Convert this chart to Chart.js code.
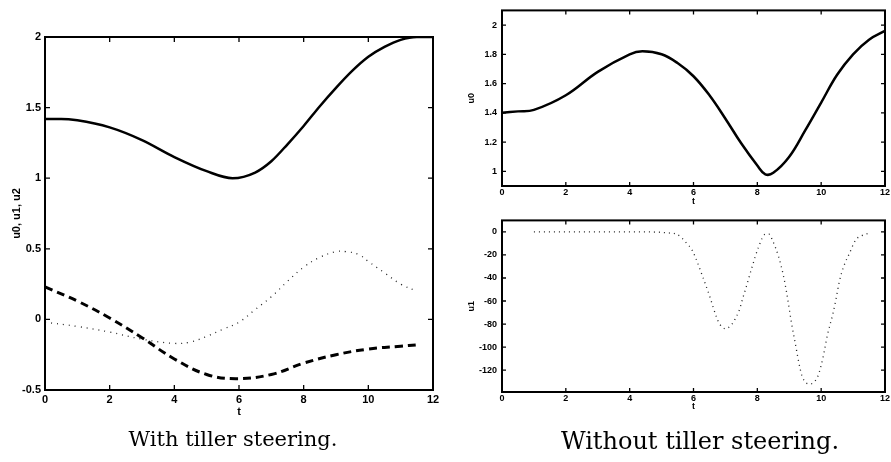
<!DOCTYPE html>
<html>
<head>
<meta charset="utf-8">
<script src="https://cdn.jsdelivr.net/npm/chart.js@4.4.0/dist/chart.umd.min.js"></script>
<style>
  body { margin: 0; background: #fff; width: 891px; height: 462px; position: relative; overflow: hidden; }
  canvas { position: absolute; }
  .cap { position: absolute; font-family: 'DejaVu Serif', serif; color: #000; white-space: nowrap; transform: translateX(-50%); }
</style>
</head>
<body>
<canvas id="left" width="450" height="430" style="left:0;top:0"></canvas>
<canvas id="rtop" width="441" height="210" style="left:450px;top:0"></canvas>
<canvas id="rbot" width="441" height="205" style="left:450px;top:210px"></canvas>
<div class="cap" style="left:233px;top:427px;font-size:21px">With tiller steering.</div>
<div class="cap" style="left:700px;top:427px;font-size:24px">Without tiller steering.</div>
<script>
// left panel: with tiller steering
const tU0 = [0, 0.5, 1, 2, 3, 4, 5, 5.8, 6.5, 7, 7.5, 8, 8.5, 9, 9.5, 10, 10.5, 11, 11.5, 12];
const u0  = [1.42, 1.42, 1.41, 1.36, 1.27, 1.15, 1.05, 1.00, 1.04, 1.12, 1.24, 1.37, 1.51, 1.64, 1.76, 1.86, 1.93, 1.98, 2.0, 2.0];
const tU1 = [0, 1, 2, 3, 4, 5, 5.9, 7, 8, 9, 10, 11, 11.5];
const u1  = [0.23, 0.13, 0.01, -0.13, -0.28, -0.39, -0.42, -0.39, -0.31, -0.25, -0.21, -0.19, -0.18];
const tU2 = [0, 1, 2, 3, 4, 4.5, 5, 5.5, 6, 6.5, 7, 7.5, 8, 8.5, 9, 9.3, 9.7, 10, 10.5, 11, 11.5];
const u2  = [-0.02, -0.05, -0.09, -0.14, -0.17, -0.16, -0.12, -0.07, -0.02, 0.07, 0.16, 0.27, 0.37, 0.44, 0.48, 0.48, 0.46, 0.41, 0.33, 0.25, 0.20];

// right panels: without tiller steering
const tR0 = [0, 0.5, 1, 2, 3, 4, 4.4, 5, 5.5, 6, 6.5, 7, 7.5, 8, 8.25, 8.5, 9, 9.5, 10, 10.5, 11, 11.5, 12];
const r0  = [1.40, 1.41, 1.42, 1.52, 1.68, 1.80, 1.82, 1.80, 1.74, 1.65, 1.52, 1.36, 1.19, 1.04, 0.98, 0.99, 1.10, 1.28, 1.47, 1.66, 1.80, 1.90, 1.96];
const tR1 = [1, 2, 3, 4, 4.6, 5.26, 5.48, 5.79, 5.96, 6.29, 6.52, 6.72, 6.82, 7.0, 7.42, 7.55, 7.65, 7.84, 8.04, 8.25, 8.37, 8.47, 8.66, 8.81, 8.92, 9.07, 9.15, 9.40, 9.65, 9.90, 10.05, 10.2, 10.36, 10.46, 10.57, 10.72, 10.88, 11.08, 11.29, 11.5];
const r1  = [0, 0, 0, 0, 0, -1, -2, -10, -16, -39, -57, -74, -80, -84, -69, -57, -48, -30, -13, -2, -2, -7, -21, -37, -53, -79, -91, -125, -132, -125, -110, -89, -72, -59, -43, -29, -19, -7, -3, -1];

const tTicks = [0, 2, 4, 6, 8, 10, 12];
const leftYTicks = [-0.5, 0, 0.5, 1, 1.5, 2];
const topYTicks = [1, 1.2, 1.4, 1.6, 1.8, 2];
const botYTicks = [-120, -100, -80, -60, -40, -20, 0];

Chart.defaults.font.family = 'Liberation Sans, Arial, sans-serif';
Chart.defaults.font.weight = 'bold';
Chart.defaults.color = '#000';

const pts = (xs, ys) => xs.map((x, i) => ({x: x, y: ys[i]}));

// box around the plot + inward tick marks, matlab style
const frame = {
  id: 'frame',
  afterDatasetsDraw(chart, args, opts) {
    const {ctx, chartArea: a, scales} = chart;
    ctx.save();
    ctx.strokeStyle = '#000';
    ctx.lineWidth = opts.width;
    ctx.strokeRect(a.left, a.top, a.right - a.left, a.bottom - a.top);
    ctx.lineWidth = 1.3;
    ctx.beginPath();
    scales.x.ticks.forEach(t => {
      const p = scales.x.getPixelForValue(t.value);
      ctx.moveTo(p, a.bottom); ctx.lineTo(p, a.bottom - opts.len);
      ctx.moveTo(p, a.top); ctx.lineTo(p, a.top + opts.len);
    });
    scales.y.ticks.forEach(t => {
      const p = scales.y.getPixelForValue(t.value);
      ctx.moveTo(a.left, p); ctx.lineTo(a.left + opts.len, p);
      ctx.moveTo(a.right, p); ctx.lineTo(a.right - opts.len, p);
    });
    ctx.stroke();
    ctx.restore();
  }
};

function makeChart(id, datasets, o) {
  return new Chart(document.getElementById(id), {
    type: 'line',
    data: {datasets: datasets},
    plugins: [frame],
    options: {
      responsive: false,
      animation: false,
      devicePixelRatio: 1,
      layout: {padding: o.pad},
      elements: {point: {radius: 0}, line: {tension: 0.4}},
      plugins: {legend: {display: false}, tooltip: {enabled: false}, frame: {width: o.frameW, len: o.tickLen}},
      scales: {
        x: {
          type: 'linear', min: 0, max: 12,
          afterBuildTicks: s => { s.ticks = tTicks.map(v => ({value: v})); },
          afterFit: s => { s.height = o.xH; },
          grid: {display: false, drawTicks: false}, border: {display: false},
          ticks: {font: {size: o.fs}, padding: o.xPad, maxRotation: 0, callback: v => String(v)},
          title: {display: true, text: 't', font: {size: o.fs}, padding: {top: 0, bottom: o.xTitlePad}}
        },
        y: {
          type: 'linear', min: o.yMin, max: o.yMax,
          afterBuildTicks: s => { s.ticks = o.yTicks.map(v => ({value: v})); },
          afterFit: s => { s.width = o.yW; },
          grid: {display: false, drawTicks: false}, border: {display: false},
          ticks: {font: {size: o.fs}, padding: o.yPad, callback: v => String(v)},
          title: {display: true, text: o.yTitle, font: {size: o.fs}, padding: {top: o.yTitlePad, bottom: 0}}
        }
      }
    }
  });
}

makeChart('left', [
  {data: pts(tU0, u0), borderColor: '#000', borderWidth: 2.5, cubicInterpolationMode: 'monotone'},
  {data: pts(tU1, u1), borderColor: '#000', borderWidth: 3, borderDash: [8, 5]},
  {data: pts(tU2, u2), borderColor: '#222', borderWidth: 1.3, borderDash: [1, 5]}
], {pad: {top: 37, right: 17, bottom: 0, left: 0}, xH: 40, yW: 45, fs: 11, xPad: 3, yPad: 4,
    xTitlePad: 11, yTitlePad: 10, yMin: -0.5, yMax: 2, yTicks: leftYTicks, yTitle: 'u0, u1, u2',
    frameW: 2, tickLen: 5});

makeChart('rtop', [
  {data: pts(tR0, r0), borderColor: '#000', borderWidth: 2.5}
], {pad: {top: 10, right: 4, bottom: 0, left: 0}, xH: 24, yW: 52, fs: 9, xPad: 1, yPad: 5,
    xTitlePad: 3, yTitlePad: 16, yMin: 0.9, yMax: 2.1, yTicks: topYTicks, yTitle: 'u0',
    frameW: 2, tickLen: 4});

makeChart('rbot', [
  {data: pts(tR1, r1), borderColor: '#222', borderWidth: 1.3, borderDash: [1, 4], cubicInterpolationMode: 'monotone'}
], {pad: {top: 7, right: 4, bottom: 0, left: 0}, xH: 23, yW: 52, fs: 9, xPad: 1, yPad: 5,
    xTitlePad: 3, yTitlePad: 16, yMin: -139, yMax: 10, yTicks: botYTicks, yTitle: 'u1',
    frameW: 2, tickLen: 4});
</script>
</body>
</html>
